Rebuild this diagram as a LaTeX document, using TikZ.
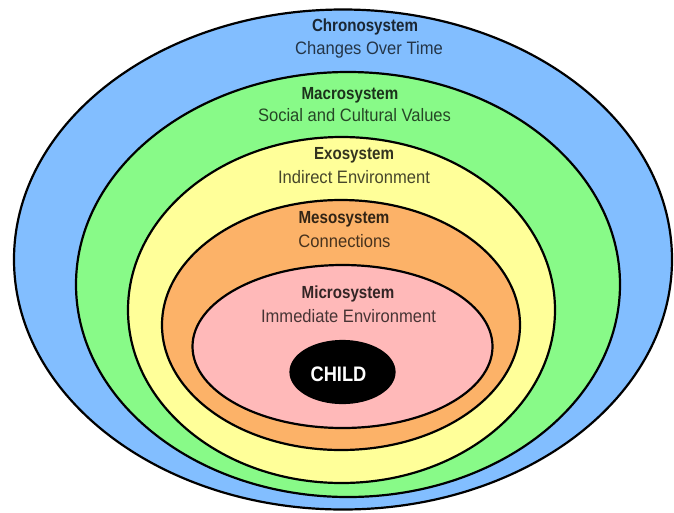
\documentclass[tikz,border=0pt]{standalone}
\usepackage{fontspec}
\setmainfont{Liberation Sans}
\usetikzlibrary{shapes.geometric}
\definecolor{cBlue}{RGB}{130,190,255}
\definecolor{cGreen}{RGB}{136,250,136}
\definecolor{cYellow}{RGB}{255,255,153}
\definecolor{cOrange}{RGB}{252,178,104}
\definecolor{cPink}{RGB}{255,185,185}
\newcommand{\ttlsq}[1]{\scalebox{0.865}[1]{#1}}
\newcommand{\subsq}[1]{\scalebox{0.92}[1]{#1}}
\tikzset{
  ring/.style={ellipse, draw=black, line width=2.2pt, inner sep=0pt},
  ttl/.style={font=\fontsize{17.5}{20}\selectfont\bfseries, inner sep=0pt},
  sub/.style={font=\fontsize{18}{21}\selectfont, inner sep=0pt},
}
\begin{document}
\begin{tikzpicture}[x=1pt,y=-1pt]
\useasboundingbox (0,0) rectangle (674,512);
\node[ring, fill=cBlue,   minimum width=658pt, minimum height=500pt] (chrono) at (343,259.5) {};
\node[ring, fill=cGreen,  minimum width=544pt, minimum height=425pt] (macro)  at (348,284.5) {};
\node[ring, fill=cYellow, minimum width=427pt, minimum height=346pt] (exo)    at (341.5,310) {};
\node[ring, fill=cOrange, minimum width=358pt, minimum height=250pt] (meso)   at (341,325) {};
\node[ring, fill=cPink,   minimum width=300pt, minimum height=163pt] (micro)  at (342.5,346.5) {};
\node[ring, fill=black,   minimum width=104pt, minimum height=62pt]  (child)  at (342.5,372) {};
\node[font=\fontsize{21}{24}\selectfont\bfseries, text=white, inner sep=0pt] (childt) at (338.5,374) {\scalebox{0.87}[1]{CHILD}};
\node[ttl, text=black!80!cBlue] (t1) at (365,27) {\ttlsq{Chronosystem}};
\node[sub, text=black!72!cBlue] (s1) at (369,50) {\subsq{Changes Over Time}};
\node[ttl, text=black!80!cGreen] (t2) at (350,95) {\ttlsq{Macrosystem}};
\node[sub, text=black!72!cGreen] (s2) at (354.5,115) {\subsq{Social and Cultural Values}};
\node[ttl, text=black!80!cYellow] (t3) at (354,155) {\ttlsq{Exosystem}};
\node[sub, text=black!72!cYellow] (s3) at (354,177) {\subsq{Indirect Environment}};
\node[ttl, text=black!80!cOrange] (t4) at (344,219) {\ttlsq{Mesosystem}};
\node[sub, text=black!72!cOrange] (s4) at (344.5,241) {\subsq{Connections}};
\node[ttl, text=black!80!cPink] (t5) at (348,294) {\ttlsq{Microsystem}};
\node[sub, text=black!72!cPink] (s5) at (348.5,316) {\subsq{Immediate Environment}};
\end{tikzpicture}
\end{document}
